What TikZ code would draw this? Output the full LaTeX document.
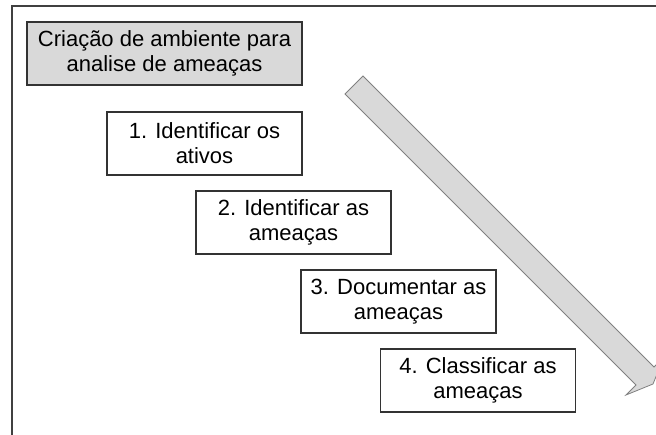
\documentclass[tikz,border=0pt]{standalone}
\usepackage{fontspec}
\setmainfont{Liberation Sans}
\definecolor{boxgray}{HTML}{D9D9D9}
\definecolor{linedark}{HTML}{333333}
\definecolor{framegray}{HTML}{404040}
\definecolor{arrowedge}{HTML}{808080}
\begin{document}
\begin{tikzpicture}[x=1pt,y=-1pt,
  stepbox/.style={draw=linedark, line width=1.3pt, fill=white, minimum width=195pt, minimum height=63pt, inner sep=0pt, align=center, font=\fontsize{22}{25}\selectfont},
  headbox/.style={stepbox, fill=boxgray, minimum width=275pt},
  framestroke/.style={draw=framegray, line width=2pt},
  bigarrow/.style={fill=boxgray, draw=arrowedge, line width=0.8pt, line join=miter}
]
\useasboundingbox (0,0) rectangle (656,434);
\clip (0,0) rectangle (656,434);
\draw[framestroke] (12,440) -- (12,6) -- (660,6);
\draw[bigarrow] (345,94) -- (636,385) -- (626,395) -- (653,384) -- (664,357) -- (654,367) -- (363,76) -- cycle;
\node[headbox] (h) at (164.5,53.5) {Criação de ambiente para\\analise de ameaças};
\node[stepbox] (s1) at (204.5,143.5) {1. Identificar os\\ativos};
\node[stepbox] (s2) at (293.5,222.5) {2. Identificar as\\ameaças};
\node[stepbox] (s3) at (398.5,301.5) {3. Documentar as\\ameaças};
\node[stepbox] (s4) at (478,380.5) {4. Classificar as\\ameaças};
\end{tikzpicture}
\end{document}
